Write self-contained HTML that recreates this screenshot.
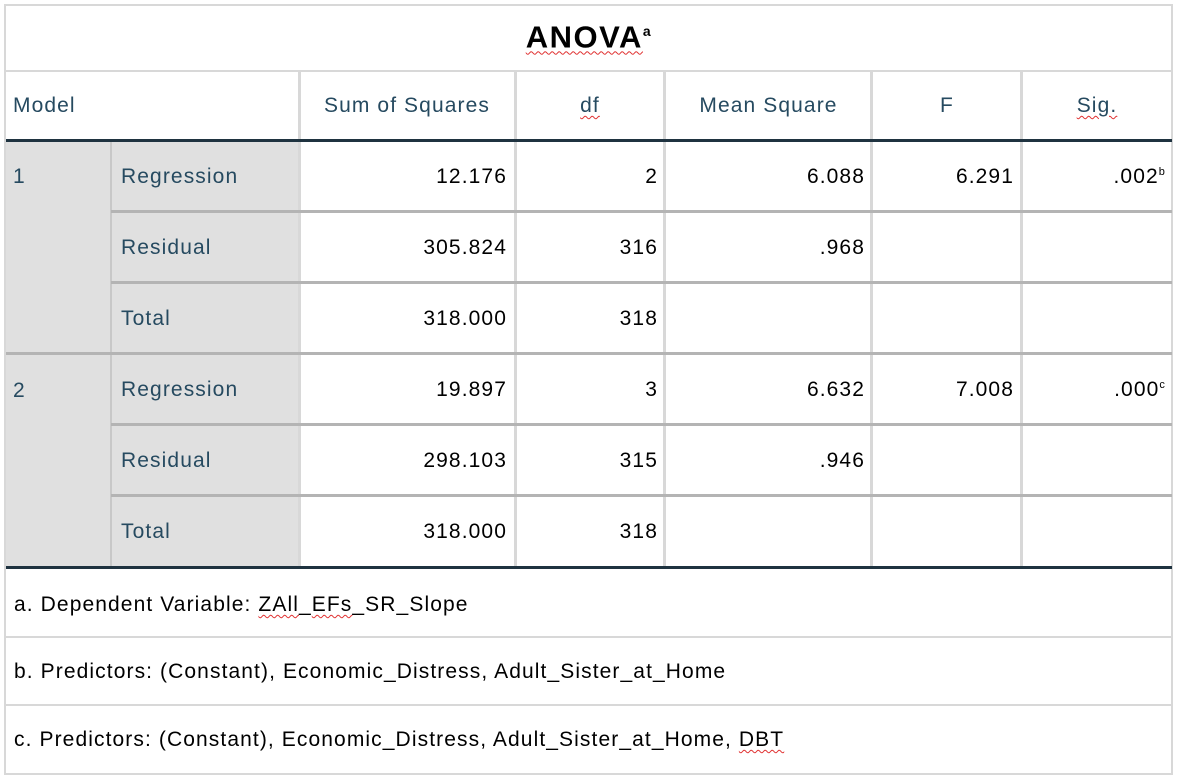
<!DOCTYPE html>
<html><head><meta charset="utf-8"><style>
body{margin:0;width:1178px;height:779px;background:#fff;position:relative;font-family:"Liberation Sans",Arial,sans-serif;overflow:hidden}
.a{position:absolute;box-sizing:border-box}
.t{font-size:21px;line-height:21px;letter-spacing:1.1px;white-space:nowrap}
.lb{color:#264a60}
.v{color:#000;text-align:right}
.hl{background:#b4b4b4;height:3px}
.vl{background:#d8d8d8;width:3px}
.dk{background:#1f3340;height:3px}
.sq{text-decoration:underline wavy #e03030;text-decoration-thickness:1px;text-underline-offset:3px}
</style></head><body>
<div class="a" style="left:4px;top:4px;width:1169px;height:771px;border:2px solid #d8d8d8"></div>
<div class="a" style="left:6px;top:142px;width:293px;height:425px;background:#e0e0e0"></div>
<div class="a t" style="left:0;top:14px;width:1178px;text-align:center;font-size:31px;line-height:34px;letter-spacing:1.5px;font-weight:bold;color:#000"><span class="sq">ANOVA</span><sup style="font-size:14px">a</sup></div>
<div class="a" style="left:4px;top:70px;width:1169px;height:2px;background:#d8d8d8"></div>
<div class="a vl" style="left:298px;top:71px;height:497px"></div>
<div class="a vl" style="left:514px;top:71px;height:497px"></div>
<div class="a vl" style="left:663px;top:71px;height:497px"></div>
<div class="a vl" style="left:870px;top:71px;height:497px"></div>
<div class="a vl" style="left:1020px;top:71px;height:497px"></div>
<div class="a" style="left:110px;top:142px;width:2px;height:425px;background:#c8c8c8"></div>
<div class="a dk" style="left:6px;top:139px;width:1166px"></div>
<div class="a hl" style="left:111px;top:210px;width:1061px"></div>
<div class="a hl" style="left:111px;top:281px;width:1061px"></div>
<div class="a hl" style="left:6px;top:352px;width:1166px"></div>
<div class="a hl" style="left:111px;top:423px;width:1061px"></div>
<div class="a hl" style="left:111px;top:494px;width:1061px"></div>
<div class="a dk" style="left:6px;top:566px;width:1166px"></div>
<div class="a" style="left:6px;top:636px;width:1166px;height:2px;background:#d8d8d8"></div>
<div class="a" style="left:6px;top:704px;width:1166px;height:2px;background:#d8d8d8"></div>
<div class="a t lb" style="left:13px;top:95px">Model</div>
<div class="a t lb" style="left:299px;width:216px;top:95px;text-align:center">Sum of Squares</div>
<div class="a t lb" style="left:515px;width:150px;top:95px;text-align:center"><span class="sq">df</span></div>
<div class="a t lb" style="left:665px;width:207px;top:95px;text-align:center">Mean Square</div>
<div class="a t lb" style="left:872px;width:150px;top:95px;text-align:center">F</div>
<div class="a t lb" style="left:1022px;width:150px;top:95px;text-align:center"><span class="sq">Sig.</span></div>
<div class="a t lb" style="left:13px;top:166px">1</div>
<div class="a t lb" style="left:13px;top:380px">2</div>
<div id="rows"></div>
<script>
const labels=["Regression","Residual","Total","Regression","Residual","Total"];
const ss=["12.176","305.824","318.000","19.897","298.103","318.000"];
const dfs=["2","316","318","3","315","318"];
const ms=["6.088",".968","","6.632",".946",""];
const fs=["6.291","","","7.008","",""];
const sig=[".002","","",".000","",""];
const sup=["b","","","c","",""];
const host=document.getElementById('rows');
function cell(txt,left,right,top,cls){
  const d=document.createElement('div');
  d.className='a t '+cls;
  d.style.top=top+'px';
  d.style.left=left+'px';
  if(cls!=='lb'){d.style.width=(right-left)+'px';}
  d.innerHTML=txt;
  host.appendChild(d);
  return d;
}
labels.forEach((l,i)=>{
  const top=166+i*71;
  let e=cell(l,121,0,top,'lb');
  
  
  e=cell(ss[i],299,507,top,'v');
  
  
  e=cell(dfs[i],515,658,top,'v');
  
  
  e=cell(ms[i],665,865,top,'v');
  
  
  e=cell(fs[i],872,1014,top,'v');
  
  
  e=cell(sig[i]?sig[i]+'<sup style="font-size:11px;vertical-align:8px;line-height:0">'+sup[i]+'</sup>':'',1022,1166,top,'v');
  
  
});
</script>
<div class="a t" style="left:14px;top:594px;color:#000">a. Dependent Variable: <span class="sq">ZAll</span>_<span class="sq">EFs</span>_SR_Slope</div>
<div class="a t" style="left:14px;top:661px;color:#000">b. Predictors: (Constant), Economic_Distress, Adult_Sister_at_Home</div>
<div class="a t" style="left:14px;top:729px;color:#000">c. Predictors: (Constant), Economic_Distress, Adult_Sister_at_Home, <span class="sq">DBT</span></div>
</body></html>
